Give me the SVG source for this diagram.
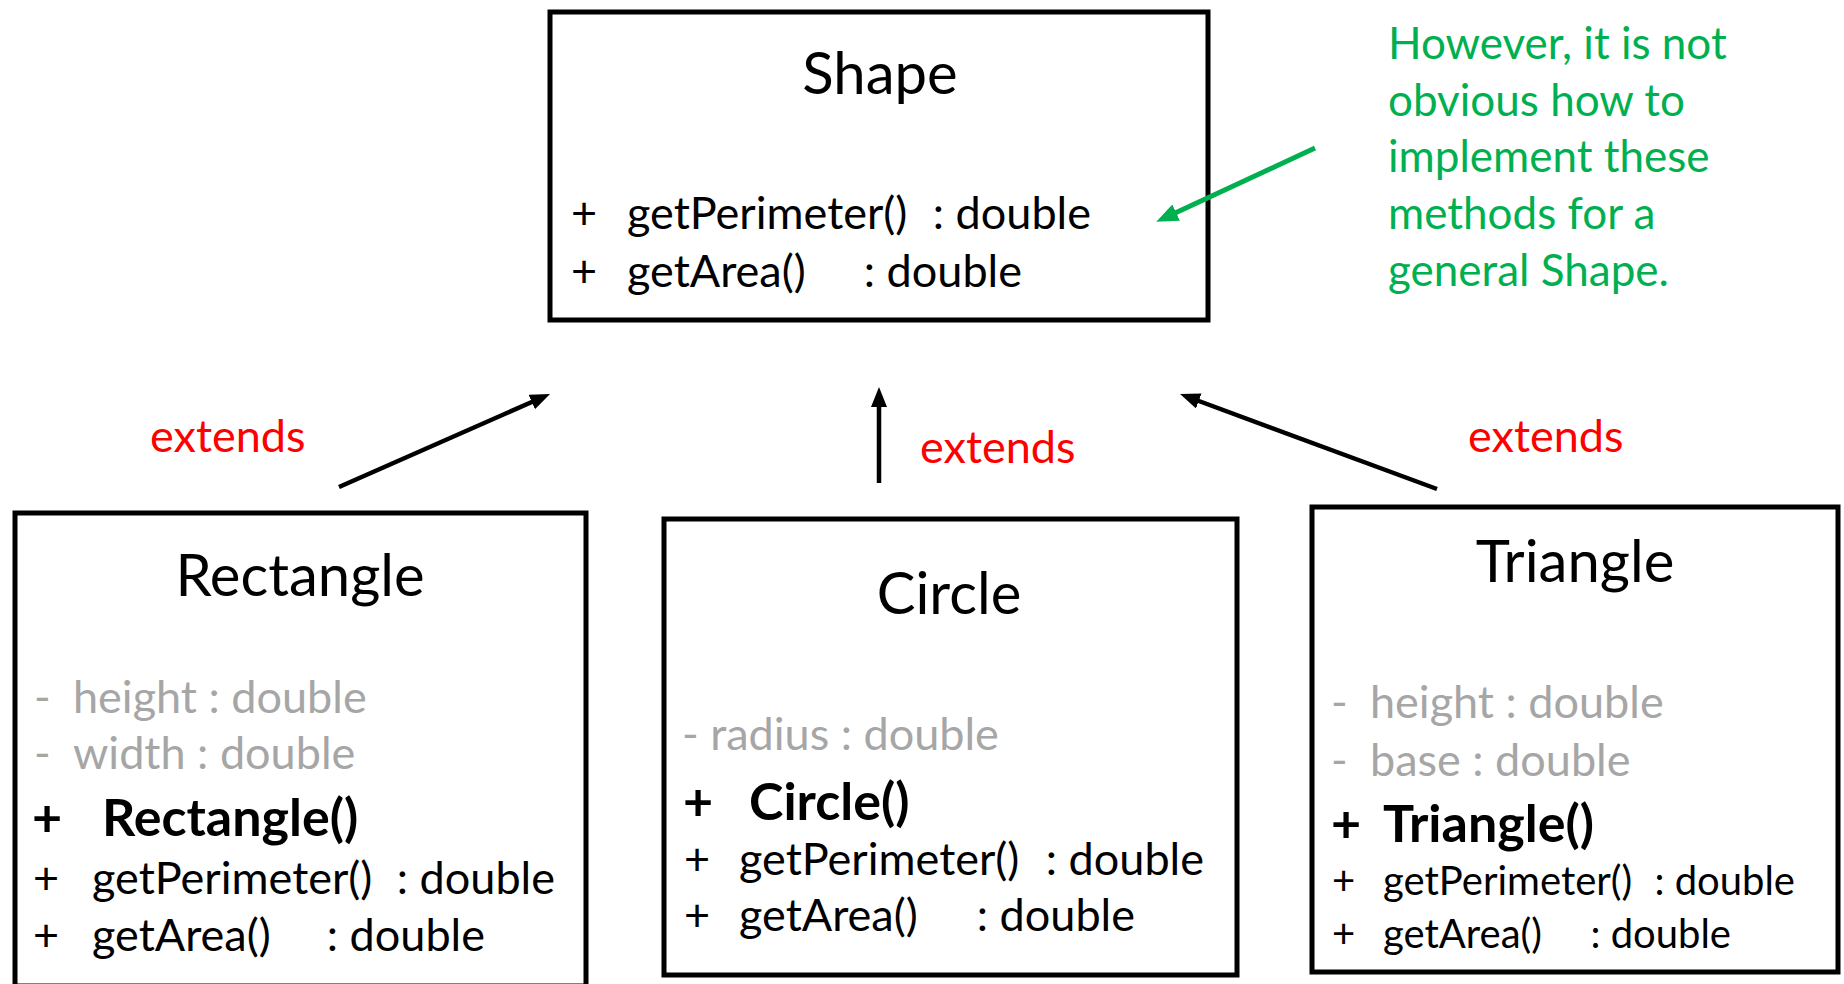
<svg xmlns="http://www.w3.org/2000/svg" width="1844" height="984" viewBox="0 0 1844 984">
  <style>
    text { font-family: Lato, "Open Sans", "Liberation Sans", sans-serif; fill: #000; }
    .box { fill: #fff; stroke: #000; stroke-width: 5; }
    .title { font-size: 58px; text-anchor: middle; }
    .m { font-size: 45px; }
    .ms { font-size: 40px; }
    .end { text-anchor: end; }
    .attr { fill: #A6A6A6; }
    .ctor { font-size: 52px; font-weight: 700; }
    .ext { font-size: 45px; fill: #FF0000; }
    .note { font-size: 44px; fill: #00B050; }
    .link { stroke: #000; stroke-width: 4.5; fill: none; }
    .hint { stroke: #00B050; stroke-width: 5; fill: none; }
  </style>
  <defs>
    <marker id="head" markerUnits="userSpaceOnUse" markerWidth="22" markerHeight="18" refX="10" refY="8" orient="auto">
      <path d="M0,0 L20,8 L0,16 z" fill="#000"/>
    </marker>
    <marker id="headGreen" markerUnits="userSpaceOnUse" markerWidth="24" markerHeight="20" refX="10" refY="9" orient="auto">
      <path d="M0,0 L22,9 L0,18 z" fill="#00B050"/>
    </marker>
  </defs>

  <rect width="1844" height="984" fill="#fff"/>

  <!-- Base class -->
  <g id="shape">
    <rect class="box" x="550" y="12" width="658" height="308"/>
    <text class="title" x="880" y="94">Shape</text>
    <text class="m" x="571" y="229">+</text>
    <text class="m" x="627" y="229">getPerimeter()</text>
    <text class="m end" x="1091" y="229">: double</text>
    <text class="m" x="571" y="287">+</text>
    <text class="m" x="627" y="287">getArea()</text>
    <text class="m end" x="1022" y="287">: double</text>
  </g>

  <!-- Subclasses -->
  <g id="rectangle">
    <rect class="box" x="15" y="513" width="571" height="473"/>
    <text class="title" x="300" y="596">Rectangle</text>
    <text class="m attr" x="34" y="713">-</text>
    <text class="m attr" x="73" y="713">height : double</text>
    <text class="m attr" x="34" y="769">-</text>
    <text class="m attr" x="73" y="769">width : double</text>
    <text class="m ctor" x="32" y="836">+</text>
    <text class="m ctor" x="102" y="836">Rectangle()</text>
    <text class="m" x="33" y="894">+</text>
    <text class="m" x="92" y="894">getPerimeter()</text>
    <text class="m end" x="555" y="894">: double</text>
    <text class="m" x="33" y="951">+</text>
    <text class="m" x="92" y="951">getArea()</text>
    <text class="m end" x="485" y="951">: double</text>
  </g>

  <g id="circle">
    <rect class="box" x="664" y="519" width="573" height="456"/>
    <text class="title" x="949" y="614">Circle</text>
    <text class="m attr" x="682" y="750">- radius : double</text>
    <text class="m ctor" x="683" y="820">+</text>
    <text class="m ctor" x="749" y="820">Circle()</text>
    <text class="m" x="684" y="875">+</text>
    <text class="m" x="739" y="875">getPerimeter()</text>
    <text class="m end" x="1204" y="875">: double</text>
    <text class="m" x="684" y="931">+</text>
    <text class="m" x="739" y="931">getArea()</text>
    <text class="m end" x="1135" y="931">: double</text>
  </g>

  <g id="triangle">
    <rect class="box" x="1312" y="507" width="526" height="465"/>
    <text class="title" x="1575" y="582">Triangle</text>
    <text class="m attr" x="1331" y="718">-</text>
    <text class="m attr" x="1370" y="718">height : double</text>
    <text class="m attr" x="1331" y="776">-</text>
    <text class="m attr" x="1370" y="776">base : double</text>
    <text class="m ctor" x="1331" y="842">+</text>
    <text class="m ctor" x="1383" y="842">Triangle()</text>
    <text class="ms" x="1332" y="895">+</text>
    <text class="ms" x="1383" y="895">getPerimeter()</text>
    <text class="ms end" x="1795" y="895">: double</text>
    <text class="ms" x="1332" y="948">+</text>
    <text class="ms" x="1383" y="948">getArea()</text>
    <text class="ms end" x="1731" y="948">: double</text>
  </g>

  <!-- Inheritance arrows and their labels -->
  <g id="connectors">
    <line class="link" x1="339" y1="487" x2="540.9" y2="398" marker-end="url(#head)"/>
    <line class="link" x1="879" y1="483" x2="879" y2="397" marker-end="url(#head)"/>
    <line class="link" x1="1437" y1="489" x2="1189.4" y2="397.5" marker-end="url(#head)"/>
    <text class="ext" x="150" y="452">extends</text>
    <text class="ext" x="920" y="463">extends</text>
    <text class="ext" x="1468" y="452">extends</text>
  </g>

  <!-- Side note pointing at the abstract methods -->
  <g id="note">
    <line class="hint" x1="1315" y1="148" x2="1167.1" y2="216.8" marker-end="url(#headGreen)"/>
    <text class="note" x="1388" y="59">However, it is not</text>
    <text class="note" x="1388" y="116">obvious how to</text>
    <text class="note" x="1388" y="172">implement these</text>
    <text class="note" x="1388" y="229">methods for a</text>
    <text class="note" x="1388" y="286">general Shape.</text>
  </g>
</svg>
